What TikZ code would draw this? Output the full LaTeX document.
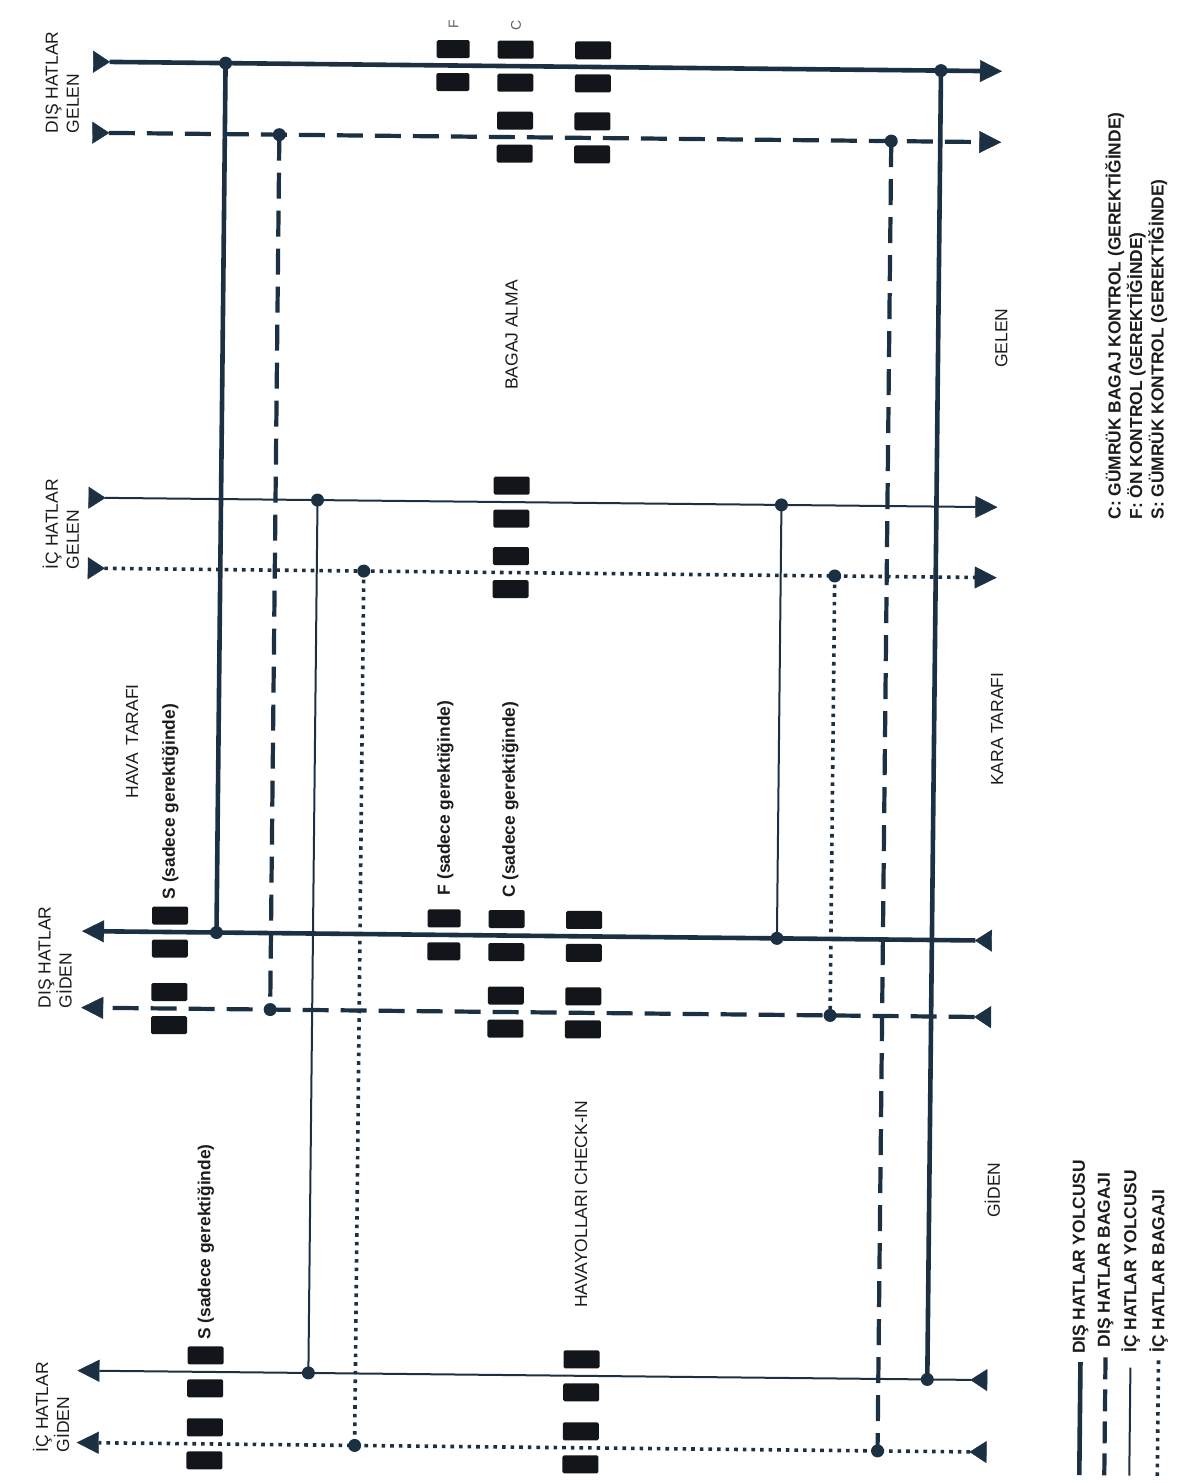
\documentclass[tikz,border=0pt]{standalone}
\usepackage{fontspec}
\setmainfont{Liberation Sans}
\usetikzlibrary{arrows.meta}

\definecolor{flow}{RGB}{27,48,66}
\definecolor{boothc}{RGB}{18,22,26}
\definecolor{ink}{RGB}{28,28,30}

\tikzset{
  % passenger and baggage flows
  paxI/.style={line width=4.6pt, draw=flow},
  bagI/.style={line width=4.2pt, draw=flow, dash pattern=on 26pt off 12pt},
  paxD/.style={line width=2pt, draw=flow},
  bagD/.style={line width=3.6pt, draw=flow, dash pattern=on 3.6pt off 5pt},
  flowtips/.style={{Triangle[reversed,length=17pt,width=22pt,line width=0.4pt]}-{Triangle[length=22pt,width=22pt,line width=0.4pt]}},
  jn/.style={circle, fill=flow, inner sep=0pt, minimum size=13pt},
  booth/.style={fill=boothc, rounded corners=1.5pt, minimum width=36pt, minimum height=18pt, inner sep=0pt},
  boothn/.style={booth, minimum width=33pt},
  lbl/.style={rotate=90, inner sep=0pt, text=ink, font=\fontsize{17.5}{21}\selectfont},
  lblb/.style={rotate=90, inner sep=0pt, text=ink, font=\fontsize{17.4}{21.5}\selectfont\bfseries},
  lbls/.style={rotate=90, inner sep=0pt, text=ink!70, font=\fontsize{14}{16}\selectfont},
}

\begin{document}
\begin{tikzpicture}[x=1pt, y=-1pt]
\useasboundingbox (0,0) rectangle (1193,1483);
\fill[white] (0,0) rectangle (1193,1483);

\begin{scope}[rotate around={-0.6:(596,741)}]

% ---------- row end points ----------
% arrivals (left to right)
\coordinate (r1s) at (86,67);     \coordinate (r1e) at (995,67);
\coordinate (r2s) at (86,138);    \coordinate (r2e) at (995,138);
\coordinate (r3s) at (86,503);    \coordinate (r3e) at (995,503);
\coordinate (r4s) at (86,573.5);  \coordinate (r4e) at (995,573.5);
% departures (right to left)
\coordinate (r5s) at (994,936.5); \coordinate (r5e) at (84,936.5);
\coordinate (r6s) at (994,1013);  \coordinate (r6e) at (84,1013);
\coordinate (r7s) at (994,1376);  \coordinate (r7e) at (84,1376);
\coordinate (r8s) at (994,1448);  \coordinate (r8e) at (84,1448);

% ---------- transfer junctions ----------
\coordinate (jA1) at (218.5,67);   \coordinate (jA2) at (218.5,936.5);
\coordinate (jB1) at (934,67);     \coordinate (jB2) at (934,1376);
\coordinate (jC1) at (273,138);    \coordinate (jC2) at (273,1013);
\coordinate (jD1) at (885,138);    \coordinate (jD2) at (885,1448);
\coordinate (jE1) at (315,503);    \coordinate (jE2) at (315,1376);
\coordinate (jF1) at (779,503);    \coordinate (jF2) at (779,936.5);
\coordinate (jG1) at (362,573.5);  \coordinate (jG2) at (362,1448);
\coordinate (jH1) at (833,573.5);  \coordinate (jH2) at (833,1013);

% transfer links
\draw[paxI] (jA1) -- (jA2);
\draw[paxI] (jB1) -- (jB2);
\draw[bagI] (jC1) -- (jC2);
\draw[bagI] (jD1) -- (jD2);
\draw[paxD] (jE1) -- (jE2);
\draw[paxD] (jF1) -- (jF2);
\draw[bagD] (jG1) -- (jG2);
\draw[bagD] (jH1) -- (jH2);

% main flows
\draw[paxI, flowtips] (r1s) -- (r1e);
\draw[bagI, flowtips] (r2s) -- (r2e);
\draw[paxD, flowtips] (r3s) -- (r3e);
\draw[bagD, flowtips] (r4s) -- (r4e);
\draw[paxI, flowtips] (r5s) -- (r5e);
\draw[bagI, flowtips] (r6s) -- (r6e);
\draw[paxD, flowtips] (r7s) -- (r7e);
\draw[bagD, flowtips] (r8s) -- (r8e);

% junction dots
\foreach \j in {A1,A2,B1,B2,C1,C2,D1,D2,E1,E2,F1,F2,G1,G2,H1,H2}
  \node[jn] (dot\j) at (j\j) {};

% ---------- control booths (pairs around a flow) ----------
\foreach \bx/\by/\bn in {508.5/67/c1, 586/67/t1, 508.5/138/c2, 586/138/t2,
                         509/503/c3, 509/573.5/c4,
                         172/936.5/s5, 508.5/936.5/c5, 586/936.5/t5,
                         172/1013/s6, 508.5/1013/c6, 586/1013/t6,
                         212/1376/s7, 588/1376/k7, 212/1448/s8, 588/1448/k8}{
  \node[booth] (bth-\bn-u) at (\bx,\by-16.5) {};
  \node[booth] (bth-\bn-d) at (\bx,\by+16.5) {};
}
\foreach \bx/\by/\bn in {446/67/f1, 446/936.5/f5}{
  \node[boothn] (bth-\bn-u) at (\bx,\by-16.5) {};
  \node[boothn] (bth-\bn-d) at (\bx,\by+16.5) {};
}

% ---------- labels ----------
\node[lbls] (lf) at (446,26) {F};
\node[lbls] (lc) at (508.5,26) {C};

\node[lbl, anchor=west, align=left] (tDG) at (56,139) {DIŞ HATLAR\\GELEN};
\node[lbl, anchor=west, align=left] (tIG) at (59,575) {İÇ HATLAR\\GELEN};
\node[lbl, anchor=west, align=left] (tDO) at (58,1014) {DIŞ HATLAR\\GİDEN};
\node[lbl, anchor=west, align=left] (tIO) at (58.5,1458) {İÇ HATLAR\\GİDEN};

\node[lbl] (air) at (132,746) {HAVA\hspace{0.45em}TARAFI};
\node[lbl] (land) at (997,725) {KARA TARAFI};
\node[lbl] (arr) at (997,334) {GELEN};
\node[lbl] (dep) at (997,1186) {GİDEN};

\node[lbl, anchor=west] (bagclaim) at (508,391) {BAGAJ ALMA};
\node[lbl, anchor=west] (checkin) at (587,1308) {HAVAYOLLARI CHECK-IN};

\node[lblb, anchor=west] (s1) at (172,904) {S (sadece gerektiğinde)};
\node[lblb, anchor=west] (f1) at (447,897) {F (sadece gerektiğinde)};
\node[lblb, anchor=west] (c1) at (512,899) {C (sadece gerektiğinde)};
\node[lblb, anchor=west] (s2) at (212,1344) {S (sadece gerektiğinde)};

% control key
\node[lblb, anchor=west, align=left] (key) at (1134,514)
  {C: GÜMRÜK BAGAJ KONTROL (GEREKTİĞİNDE)\\F: ÖN KONTROL (GEREKTİĞİNDE)\\S: GÜMRÜK KONTROL (GEREKTİĞİNDE)};

% line legend
\coordinate (lg1a) at (1087,1470); \coordinate (lg1b) at (1087,1357);
\coordinate (lg2a) at (1112,1470); \coordinate (lg2b) at (1112,1342);
\coordinate (lg3a) at (1137,1470); \coordinate (lg3b) at (1137,1362);
\coordinate (lg4a) at (1165,1470); \coordinate (lg4b) at (1165,1352);
\draw[paxI] (lg1a) -- (lg1b);
\draw[bagI, dash pattern=on 22pt off 10pt] (lg2a) -- (lg2b);
\draw[paxD] (lg3a) -- (lg3b);
\draw[bagD] (lg4a) -- (lg4b);
\node[lblb, anchor=west] (lgt1) at (1087,1349) {DIŞ HATLAR YOLCUSU};
\node[lblb, anchor=west] (lgt2) at (1112,1342) {DIŞ HATLAR BAGAJI};
\node[lblb, anchor=west] (lgt3) at (1137,1347) {İÇ HATLAR YOLCUSU};
\node[lblb, anchor=west] (lgt4) at (1165,1347) {İÇ HATLAR BAGAJI};

\end{scope}
\end{tikzpicture}
\end{document}
